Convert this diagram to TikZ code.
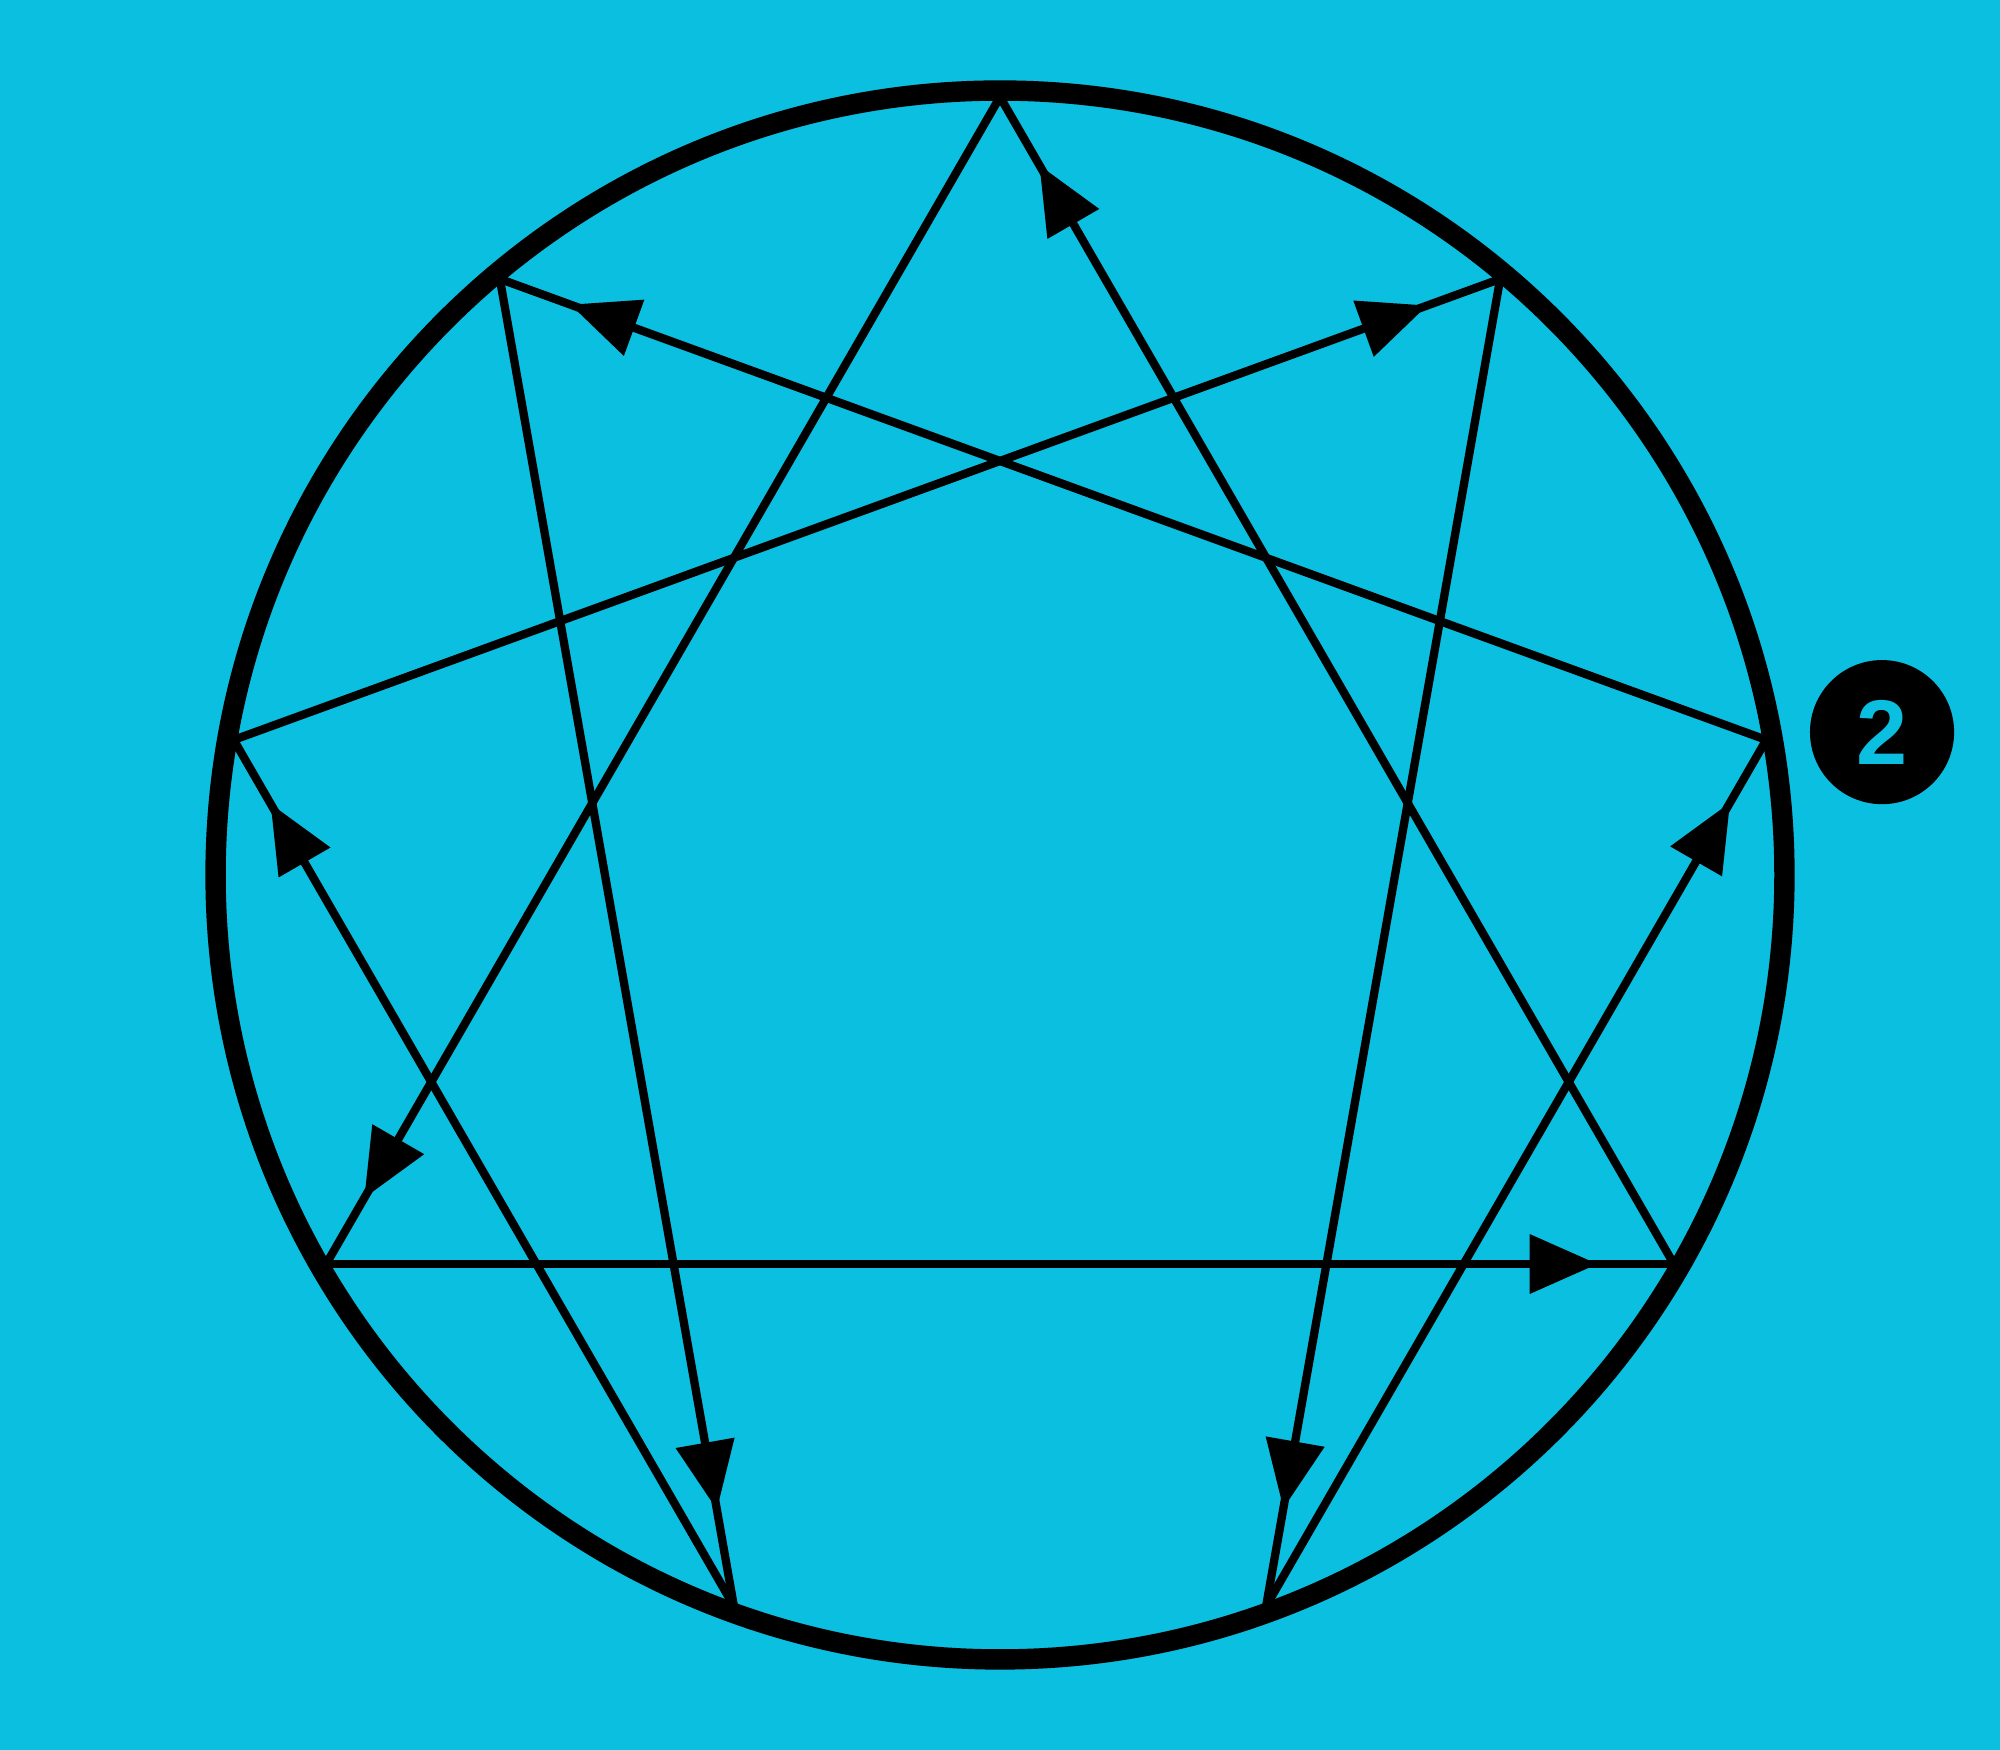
\documentclass[tikz,border=0pt]{standalone}
\usepackage{fontspec}
\newfontfamily\badgefont{Liberation Sans}
\usetikzlibrary{calc}
\definecolor{bgcyan}{RGB}{11,191,224}
\tikzset{
  edge/.style={line width=6.5pt, draw=black, line cap=butt},
  ring/.style={line width=16pt, draw=black},
  headfill/.style={fill=black},
  badge/.style={circle, fill=black, inner sep=0pt, minimum size=113pt,
    text=bgcyan, font=\badgefont\bfseries\fontsize{72}{80}\selectfont},
}
% arrowhead on the line from #1 to #2, tip at distance #3 from #2, named #4
\newcommand\enneahead[4]{%
  \coordinate (#4t) at ($(#2)!#3pt!(#1)$);
  \coordinate (#4b) at ($(#2)!#3pt+53pt!(#1)$);
  \fill[headfill] (#4t) -- ($(#4b)!23.5pt!90:(#2)$) -- ($(#4b)!23.5pt!-90:(#2)$) -- cycle;
}
\begin{document}
\begin{tikzpicture}[x=1pt,y=1pt]
  \fill[bgcyan] (0,0) rectangle (1568,1372);
  \useasboundingbox (0,0) rectangle (1568,1372);
  \coordinate (c) at (784,686);
  \foreach \k in {1,...,9}{
    \coordinate (p\k) at ($(c)+({90-40*\k}:610)$);
  }
  % triangle 9-3-6
  \draw[edge] (p9) -- (p3);
  \draw[edge] (p3) -- (p6);
  \draw[edge] (p6) -- (p9);
  % hexad 1-4-2-8-5-7-1
  \draw[edge] (p1) -- (p4);
  \draw[edge] (p4) -- (p2);
  \draw[edge] (p2) -- (p8);
  \draw[edge] (p8) -- (p5);
  \draw[edge] (p5) -- (p7);
  \draw[edge] (p7) -- (p1);
  % outer circle
  \draw[ring] (c) circle[radius=615];
  % arrowheads
  \enneahead{p3}{p9}{62}{a1}
  \enneahead{p9}{p6}{60}{a2}
  \enneahead{p6}{p3}{60}{a3}
  \enneahead{p1}{p4}{78}{a4}
  \enneahead{p4}{p2}{57}{a5}
  \enneahead{p2}{p8}{59}{a6}
  \enneahead{p8}{p5}{77}{a7}
  \enneahead{p5}{p7}{58}{a8}
  \enneahead{p7}{p1}{61}{a9}
  % badge
  \node[badge] (badge) at (1475.5,798) {2};
\end{tikzpicture}
\end{document}
